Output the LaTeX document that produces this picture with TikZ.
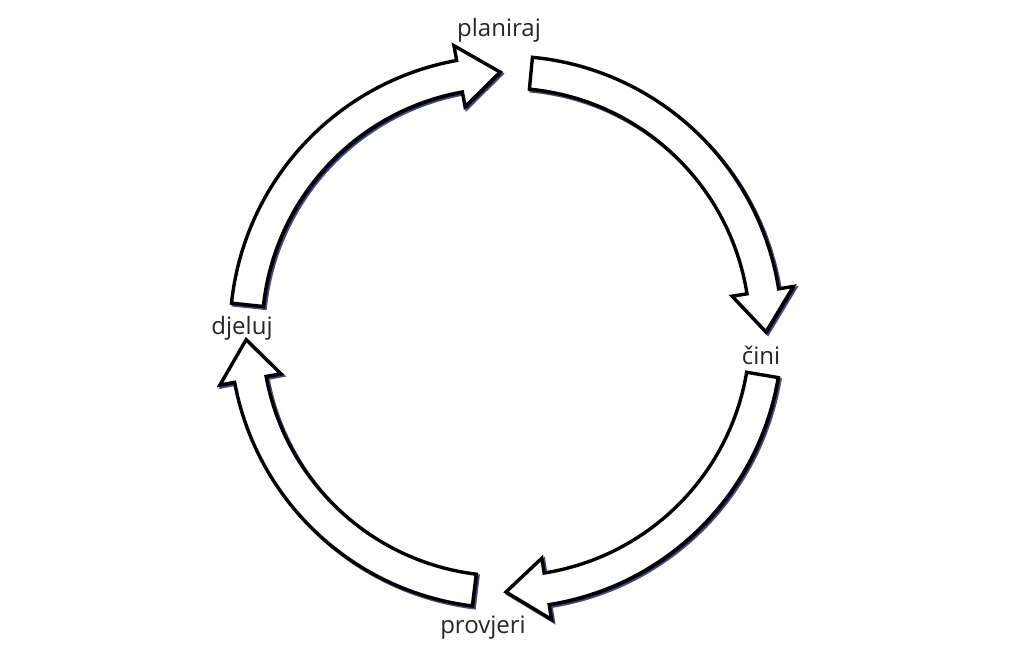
\documentclass[tikz,border=0pt]{standalone}
\usepackage{fontspec}
\setmainfont{Open Sans}
\def\cRo{276}
\def\cRi{244}
\def\cRm{260}
\def\cRho{291}
\def\cRhi{229}
\newcommand\cycarrow[4]{%
  \draw[#1] (#2:\cRo) arc[start angle=#2, end angle=#3, radius=\cRo]
    -- (#3:\cRho) -- (#4:\cRm) -- (#3:\cRhi) -- (#3:\cRi)
    arc[start angle=#3, end angle=#2, radius=\cRi] -- cycle;}
\begin{document}
\begin{tikzpicture}[x=1pt,y=1pt,
  blockarrow/.style={draw=black, line width=3.4pt, fill=white, line join=miter},
  arrowshadow/.style={draw=black!75!blue, line width=3.4pt, fill=black!75!blue, line join=miter, opacity=0.7},
  lbl/.style={font=\fontsize{24}{28}\selectfont, text=black!85, inner sep=0pt}]
\useasboundingbox (0,0) rectangle (1034,-654);
\fill[white] (0,0) rectangle (1034,-654);
\begin{scope}[shift={(506,-332)}]
  \begin{scope}[shift={(1.8,-1.8)}]
    \cycarrow{arrowshadow}{84.5}{9}{0}
    \cycarrow{arrowshadow}{-9.5}{-81}{-90}
    \cycarrow{arrowshadow}{-97}{-169.5}{-178.3}
    \cycarrow{arrowshadow}{174}{100.3}{91.3}
  \end{scope}
  \cycarrow{blockarrow}{84.5}{9}{0}
  \cycarrow{blockarrow}{-9.5}{-81}{-90}
  \cycarrow{blockarrow}{-97}{-169.5}{-178.3}
  \cycarrow{blockarrow}{174}{100.3}{91.3}
\end{scope}
\node[lbl] (planiraj) at (499,-30) {planiraj};
\node[lbl] (cini) at (761,-355) {čini};
\node[lbl] (djeluj) at (242,-328) {djeluj};
\node[lbl] (provjeri) at (483,-628) {provjeri};
\end{tikzpicture}
\end{document}
